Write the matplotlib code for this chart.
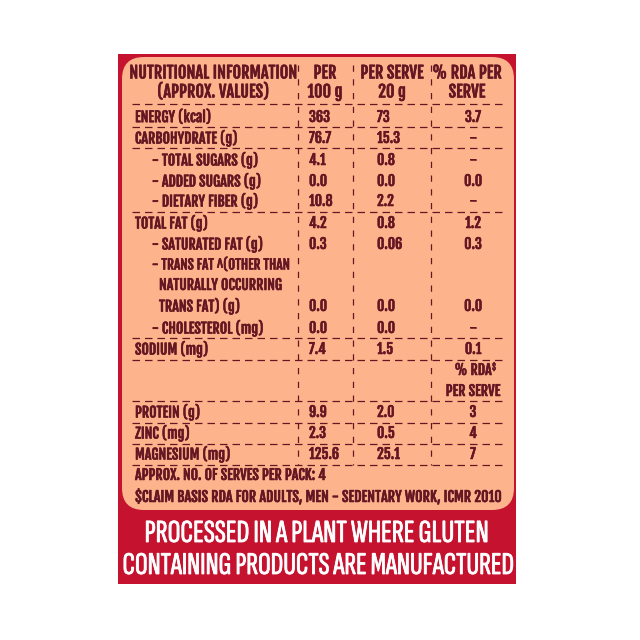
import matplotlib
matplotlib.use('Agg')
import matplotlib.pyplot as plt
import matplotlib.patheffects as pe
from matplotlib.patches import FancyBboxPatch, Rectangle

RED = '#c5122f'
PEACH = '#fdb48d'
INK = '#641622'
BODY_FONT = ['Fjalla One', 'Liberation Sans']
BANNER_FONT = ['Sofia Sans Extra Condensed', 'Liberation Sans']

row_labels = ['ENERGY (kcal)', 'CARBOHYDRATE (g)', '- TOTAL SUGARS (g)', '- ADDED SUGARS (g)',
              '- DIETARY FIBER (g)', 'TOTAL FAT (g)', '- SATURATED FAT (g)', '- TRANS FAT ^(OTHER THAN',
              'NATURALLY OCCURRING', 'TRANS FAT) (g)', '- CHOLESTEROL (mg)', 'SODIUM (mg)',
              '', '', 'PROTEIN (g)', 'ZINC (mg)', 'MAGNESIUM (mg)']
per_100g = ['363', '76.7', '4.1', '0.0', '10.8', '4.2', '0.3', '', '', '0.0', '0.0', '7.4',
            '', '', '9.9', '2.3', '125.6']
per_serve = ['73', '15.3', '0.8', '0.0', '2.2', '0.8', '0.06', '', '', '0.0', '0.0', '1.5',
             '', '', '2.0', '0.5', '25.1']
pct_rda = ['3.7', '-', '-', '0.0', '-', '1.2', '0.3', '', '', '0.0', '-', '0.1',
           '% RDA', 'PER SERVE', '3', '4', '7']
row_y = [117, 138, 160, 181, 201, 223, 244, 265, 285, 306, 328, 349, 370, 391, 412, 433, 454]
label_x = [135, 135, 152, 152, 152, 135, 152, 152, 159, 159, 152, 135, 135, 135, 135, 135, 135]

rule_y = [104, 127, 148, 212, 338, 360, 401, 423, 444, 465]
col_x = [298, 353, 431]

fig = plt.figure(figsize=(6.4, 6.4), dpi=100)
ax = fig.add_axes([0, 0, 1, 1])
ax.set_xlim(0, 640)
ax.set_ylim(640, 0)
ax.axis('off')

ax.add_patch(Rectangle((118, 54), 398, 530, fc=RED, ec='none'))
ax.add_patch(FancyBboxPatch((122 + 22, 57 + 22), 392 - 44, 453 - 44,
                            boxstyle='round,pad=22,rounding_size=22', fc=PEACH, ec='none'))

for y in rule_y:
    ax.plot([132, 503], [y, y], color=INK, lw=0.9, dashes=(6, 4))
for x in col_x:
    ax.plot([x, x], [65, 465], color=INK, lw=0.9, dashes=(5, 6))

# the printed label is heavier than the font, a thin outline gets it closer
heavier = [pe.withStroke(linewidth=0.4, foreground=INK)]


def put(x, y, s, ha='left', size=10.2):
    ax.text(x, y, s, ha=ha, va='center', color=INK, fontsize=size, family=BODY_FONT,
            path_effects=heavier)


put(213, 73.5, 'NUTRITIONAL INFORMATION', 'center', 11.8)
put(213, 92.5, '(APPROX. VALUES)', 'center', 11.8)
put(325, 73.5, 'PER', 'center', 11.8)
put(325, 92.5, '100 g', 'center', 11.8)
put(392, 73.5, 'PER SERVE', 'center', 11.8)
put(392, 92.5, '20 g', 'center', 11.8)
put(467, 73.5, '% RDA PER', 'center', 11.8)
put(467, 92.5, 'SERVE', 'center', 11.8)

for i, y in enumerate(row_y):
    if row_labels[i]:
        # this one runs up against the first column rule at full size
        put(label_x[i], y, row_labels[i], size=9.7 if '^' in row_labels[i] else 10.2)
    if per_100g[i]:
        put(309, y, per_100g[i])
    if per_serve[i]:
        put(377, y, per_serve[i])
    if pct_rda[i]:
        put(473, y, pct_rda[i], 'center')
put(492, 367, '\\$', size=6)

put(135, 475, 'APPROX. NO. OF SERVES PER PACK: 4')
put(135, 497, '\\$CLAIM BASIS RDA FOR ADULTS, MEN - SEDENTARY WORK, ICMR 2010', size=10.3)

banner_stroke = [pe.withStroke(linewidth=0.6, foreground='white')]
ax.text(316, 534, 'PROCESSED IN A PLANT WHERE GLUTEN', ha='center', va='center', color='white',
        fontsize=23.2, family=BANNER_FONT, path_effects=banner_stroke)
ax.text(318, 566, 'CONTAINING PRODUCTS ARE MANUFACTURED', ha='center', va='center', color='white',
        fontsize=22.8, family=BANNER_FONT, path_effects=banner_stroke)

fig.savefig('out.png', dpi=100, facecolor='white')
